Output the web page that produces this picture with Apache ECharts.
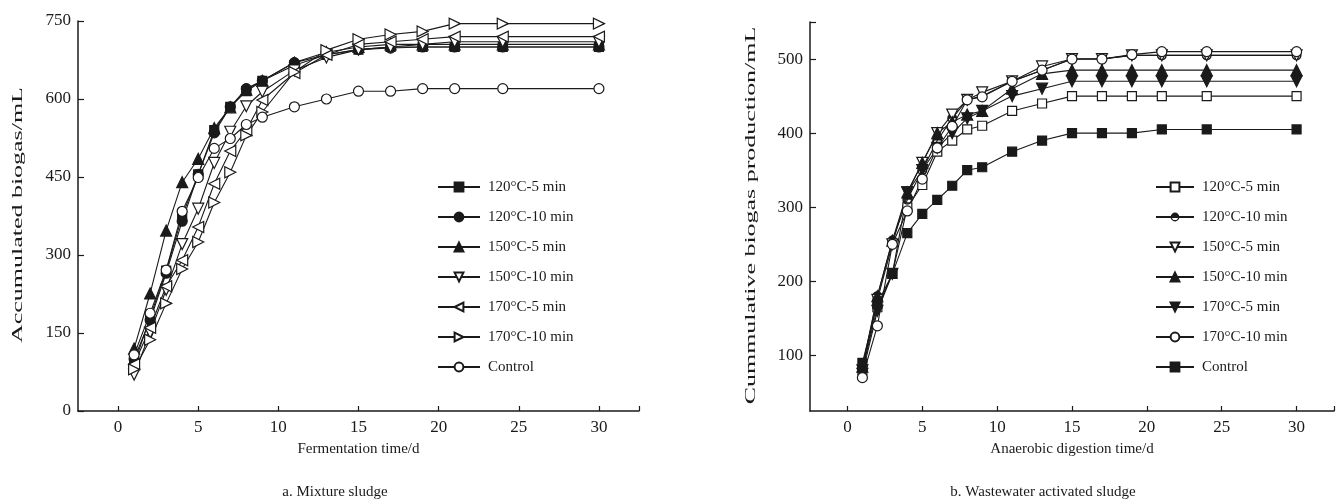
<!DOCTYPE html>
<html>
<head>
<meta charset="utf-8">
<script src="https://cdn.jsdelivr.net/npm/echarts@6/dist/echarts.min.js"></script>
<style>
html,body{margin:0;padding:0;background:#fff;}
#chart{width:1338px;height:503px;}
</style>
</head>
<body>
<div id="chart"></div>
<script>
// ---- data ----
const days = [1,2,3,4,5,6,7,8,9,11,13,15,17,19,21,24,30];

// a. Mixture sludge
const seriesNamesA = ['120°C-5 min','120°C-10 min','150°C-5 min','150°C-10 min','170°C-5 min','170°C-10 min','Control'];
const m120_5  = [90,180,270,375,455,540,585,615,635,665,685,695,700,700,700,700,700];
const m120_10 = [100,175,265,365,455,535,585,620,635,670,685,695,698,700,700,700,700];
const m150_5  = [120,226,347,440,485,544,584,618,635,670,690,700,705,705,705,705,705];
const m150_10 = [70,151,233,321,389,477,537,586,614,655,680,695,700,705,710,710,710];
const m170_5  = [90,160,240,290,354,437,500,540,598,650,685,705,710,715,720,720,720];
const m170_10 = [80,137,207,273,325,401,459,530,575,652,694,715,724,730,745,745,745];
const mCtrl   = [108,188,271,384,449,505,524,551,565,585,600,615,615,620,620,620,620];

// b. Wastewater activated sludge
const seriesNamesB = ['120°C-5 min','120°C-10 min','150°C-5 min','150°C-10 min','170°C-5 min','170°C-10 min','Control'];
const w120_5  = [80,165,210,300,330,375,390,405,410,430,440,450,450,450,450,450,450];
const w120_10 = [80,180,255,310,350,390,420,445,450,470,485,500,500,505,505,505,505];
const w150_5  = [80,175,250,320,360,400,425,445,455,470,490,500,500,505,505,505,505];
const w150_10 = [85,180,255,320,360,400,415,425,430,460,480,485,485,485,485,485,485];
const w170_5  = [75,160,210,320,350,380,400,420,430,450,460,470,470,470,470,470,470];
const w170_10 = [70,140,250,295,338,380,409,445,449,470,485,500,500,506,510,510,510];
const wCtrl   = [90,170,210,265,291,310,329,350,354,375,390,400,400,400,405,405,405];

const xTicks = [0,5,10,15,20,25,30];
const yTicksB = [100,200,300,400,500];
const yNameA = 'Accumulated biogas/mL';
const yNameB = 'Cummulative biogas production/mL';

// ---- styles ----
const FONT = "'Liberation Serif','Times New Roman',serif";
const INK = '#1a1a1a';
const halfCircle = 'path://M0,-10A10,10 0 1,1 0,10A10,10 0 1,1 0,-10Z M0,-7A7,7 0 1,0 0,7A7,7 0 1,0 0,-7Z M-7,0A7,7 0 0,1 7,0Z';

const markerA = [
  {symbol:'rect', fill:INK, size:9},
  {symbol:'circle', fill:INK, size:10},
  {symbol:'triangle', fill:INK, size:11},
  {symbol:'triangle', fill:'#fff', size:11, rot:180},
  {symbol:'triangle', fill:'#fff', size:11, rot:90},
  {symbol:'triangle', fill:'#fff', size:11, rot:-90},
  {symbol:'circle', fill:'#fff', size:10}
];
const markerB = [
  {symbol:'rect', fill:'#fff', size:9},
  {symbol:halfCircle, fill:INK, size:10, noBorder:true},
  {symbol:'triangle', fill:'#fff', size:11, rot:180},
  {symbol:'triangle', fill:INK, size:11},
  {symbol:'triangle', fill:INK, size:11, rot:180},
  {symbol:'circle', fill:'#fff', size:10},
  {symbol:'rect', fill:INK, size:9}
];
const valsA = [m120_5,m120_10,m150_5,m150_10,m170_5,m170_10,mCtrl];
const valsB = [w120_5,w120_10,w150_5,w150_10,w170_5,w170_10,wCtrl];

function mkSeries(name, vals, mk, idx) {
  return {
    name: name,
    type: 'line',
    xAxisIndex: idx, yAxisIndex: idx,
    data: days.map((d,i)=>[d, vals[i]]),
    symbol: mk.symbol,
    symbolSize: mk.size,
    symbolRotate: mk.rot || 0,
    showAllSymbol: true,
    lineStyle: {color: INK, width: 1.1},
    itemStyle: {color: mk.fill, borderColor: INK, borderWidth: mk.noBorder ? 0 : 1.2},
    emphasis: {disabled: true},
    animation: false,
    z: 3
  };
}

const series = [];
seriesNamesA.forEach((n,i)=>series.push(mkSeries(n, valsA[i], markerA[i], 0)));
// trailing space keeps right-chart legend names distinct from left-chart ones
seriesNamesB.forEach((n,i)=>series.push(mkSeries(n + ' ', valsB[i], markerB[i], 1)));

function xAxis(gridIndex, name) {
  return {
    type:'value', gridIndex: gridIndex, min:-2.5, max:32.5,
    name: name, nameLocation:'middle', nameGap: 31, nameMoveOverlap: false,
    nameTextStyle:{fontFamily:FONT, fontSize:15, color:INK},
    axisLine:{show:true, onZero:false, lineStyle:{color:INK, width:1.5}},
    axisTick:{show:true, inside:true, length:5, customValues: xTicks.concat([32.5]), lineStyle:{color:INK, width:1.2}},
    axisLabel:{customValues: xTicks, margin:8, fontFamily:FONT, fontSize:17, color:INK},
    splitLine:{show:false}
  };
}

const gridA = {left:78, top:21, width:561, height:390};
const gridB = {left:810, top:22, width:524, height:389};

function yName(text, cx, cy) {
  return {
    type:'text', x:cx, y:cy, rotation:Math.PI/2, scaleX:1.73, silent:true,
    style:{text:text, font:"15px 'Liberation Serif','Times New Roman',serif", fill:INK,
           align:'center', verticalAlign:'middle'}
  };
}

const chart = echarts.init(document.getElementById('chart'), null, {renderer:'canvas'});
chart.setOption({
  backgroundColor:'#fff',
  animation:false,
  title:[
    {text:'a. Mixture sludge', left:330, top:480, textAlign:'center',
     textStyle:{fontFamily:FONT, fontSize:15, fontWeight:'normal', color:INK}},
    {text:'b. Wastewater activated sludge', left:1038, top:480, textAlign:'center',
     textStyle:{fontFamily:FONT, fontSize:15, fontWeight:'normal', color:INK}}
  ],
  graphic:[
    yName(yNameA, 18, gridA.top + gridA.height/2 - 1),
    yName(yNameB, 751, gridB.top + gridB.height/2 - 1)
  ],
  grid:[gridA, gridB],
  xAxis:[ xAxis(0,'Fermentation time/d'), xAxis(1,'Anaerobic digestion time/d') ],
  yAxis:[
    {type:'value', gridIndex:0, min:0, max:750, interval:150,
     axisLine:{show:true, onZero:false, lineStyle:{color:INK, width:1.5}},
     axisTick:{show:true, inside:true, length:6, lineStyle:{color:INK, width:1.2}},
     axisLabel:{margin:7, fontFamily:FONT, fontSize:17, color:INK},
     splitLine:{show:false}},
    {type:'value', gridIndex:1, min:25, max:550,
     axisLine:{show:true, onZero:false, lineStyle:{color:INK, width:1.5}},
     axisTick:{show:true, inside:true, length:6, customValues: yTicksB.concat([550]), lineStyle:{color:INK, width:1.2}},
     axisLabel:{customValues: yTicksB, margin:7, fontFamily:FONT, fontSize:17, color:INK},
     splitLine:{show:false}}
  ],
  legend:[
    {orient:'vertical', left:437, top:179, padding:0, itemWidth:42, itemHeight:11, itemGap:14,
     data: seriesNamesA,
     textStyle:{fontFamily:FONT, fontSize:15, color:INK, lineHeight:16, padding:[0,0,0,3]},
     selectedMode:false},
    {orient:'vertical', left:1155, top:179, padding:0, itemWidth:38, itemHeight:11, itemGap:14,
     data: seriesNamesB.map(n=>n+' '),
     textStyle:{fontFamily:FONT, fontSize:15, color:INK, lineHeight:16, padding:[0,0,0,3]},
     selectedMode:false}
  ],
  series: series
});
</script>
</body>
</html>
